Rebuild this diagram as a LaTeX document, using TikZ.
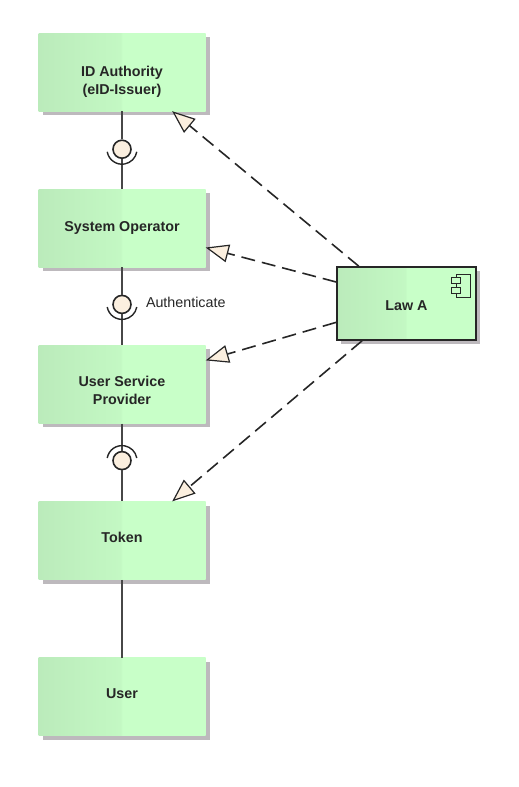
\documentclass[tikz,border=0pt]{standalone}
\usepackage{xcolor}
\usepackage{fontspec}
\setmainfont{Liberation Sans}
\usetikzlibrary{arrows.meta, positioning, shadows}
\definecolor{mintlight}{HTML}{C8FFC8}
\definecolor{mintmid}{HTML}{C3F8C3}
\definecolor{mintdark}{HTML}{BBEBBB}
\definecolor{creamball}{HTML}{FBEFDF}
\definecolor{inkdark}{HTML}{262626}
\definecolor{shadowgray}{HTML}{BDB9BD}
\pgfdeclarehorizontalshading{mintfade}{100bp}{color(0bp)=(mintdark); color(25bp)=(mintdark); color(49.7bp)=(mintmid); color(50bp)=(mintlight); color(100bp)=(mintlight)}
\tikzset{
  block/.style={shading=mintfade, minimum width=167pt, minimum height=78pt, inner sep=0pt,
                drop shadow={shadow xshift=4pt, shadow yshift=-4pt, fill=shadowgray, opacity=1}},
  blocktext/.style={align=center, inner sep=0pt, font=\fontsize{14.3}{18}\selectfont\bfseries, text=inkdark},
  lawblock/.style={block, draw=inkdark, line width=1.5pt, minimum width=139pt, minimum height=73pt},
  iconpart/.style={draw=inkdark, line width=1pt, fill=mintlight},
  ball/.style={circle, draw=inkdark, line width=1.6pt, fill=creamball, minimum size=18pt, inner sep=0pt},
  socket/.style={draw=inkdark, line width=1.4pt},
  wire/.style={draw=inkdark!85!white, line width=2pt},
  realize/.style={draw=inkdark, line width=1.6pt, dash pattern=on 14pt off 7pt,
                  -{Triangle[length=23pt, width=18pt, fill=creamball, line width=1.2pt]}},
}
\begin{document}
\begin{tikzpicture}[x=1pt, y=1pt]
  \useasboundingbox (0,0) rectangle (519,-787);
  % Left column
  \node[block] (idauth) at (122,-72) {};
  \node[block, below=77.8pt of idauth] (sysop) {};
  \node[block, below=77.8pt of sysop] (usp) {};
  \node[block, below=77.8pt of usp] (token) {};
  \node[block, below=77.8pt of token] (user) {};
  \node[blocktext] (idauthtext) at ([yshift=-9.5pt]idauth.center) {ID Authority\\(eID-Issuer)};
  \node[blocktext] (sysoptext) at (sysop.center) {System Operator};
  \node[blocktext] (usptext) at ([yshift=-6pt]usp.center) {User Service\\ Provider};
  \node[blocktext] (tokentext) at ([yshift=3pt]token.center) {Token};
  \node[blocktext] (usertext) at ([yshift=3pt]user.center) {User};
  % Law block and its icon
  \node[lawblock] (lawa) at (406.5,-303.5) {};
  \node[blocktext] (lawatext) at ([yshift=-2pt]lawa.center) {Law A};
  \draw[iconpart] (456,-274) rectangle (470,-297);
  \draw[iconpart] (451,-277) rectangle (460,-283);
  \draw[iconpart] (451,-287) rectangle (460,-293);
  % Interfaces
  \node[ball, below=38pt of idauth, anchor=center] (ballauth) {};
  \node[ball, below=37pt of sysop, anchor=center] (ballauthn) {};
  \node[ball, below=37pt of usp, anchor=center] (balltoken) {};
  \node[right=14pt of ballauthn, yshift=2pt, font=\fontsize{14.3}{16}\selectfont, inner sep=0pt, text=inkdark] (authlabel) {Authenticate};
  \draw[wire] (idauth) -- (ballauth);
  \draw[wire] (ballauth) -- (sysop);
  \draw[wire] (sysop) -- (ballauthn);
  \draw[wire] (ballauthn) -- (usp);
  \draw[wire] (usp) -- (balltoken);
  \draw[wire] (balltoken) -- (token);
  \draw[wire] (token) -- (user);
  % Sockets
  \draw[socket] (ballauth.center) ++(190:15pt) arc (190:350:15pt);
  \draw[socket] (ballauthn.center) ++(190:15pt) arc (190:350:15pt);
  \draw[socket] (balltoken.center) ++(170:15pt) arc (170:10:15pt);
  % Dependencies
  \draw[realize] (lawa.142) -- (idauth.-38);
  \draw[realize] (lawa.163.6) -- (sysop.-13.5);
  \draw[realize] (lawa.195.7) -- (usp.16);
  \draw[realize] (lawa.220) -- (token.38.8);
\end{tikzpicture}
\end{document}
